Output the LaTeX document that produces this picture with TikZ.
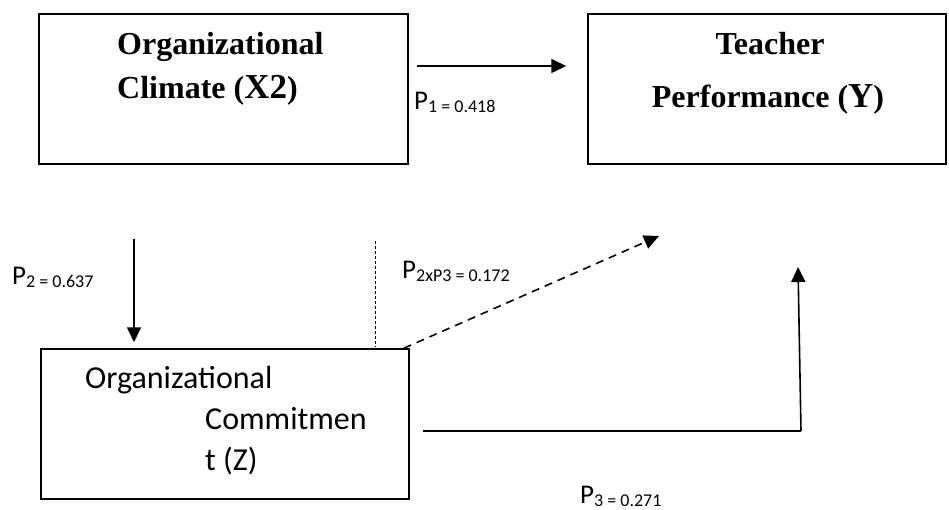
\documentclass[tikz,border=0pt]{standalone}
\usepackage{fontspec}
\setmainfont{Liberation Serif}
\newfontfamily\calfont{Carlito}
\usetikzlibrary{
  arrows.meta,
  positioning,
  calc
}
\tikzset{
  varbox/.style={draw, line width=1.5pt, inner sep=0pt},
  hdtxt/.style={inner sep=0pt, font=\fontsize{32}{36}\selectfont\bfseries},
  cmtxt/.style={inner sep=0pt, anchor=base west, font=\calfont\fontsize{32}{36}\selectfont},
  lbl/.style={inner sep=0pt, anchor=base west},
  arr/.style={-{Triangle[length=15pt, width=14pt]}, line width=1.6pt},
  darr/.style={-{Triangle[length=15pt, width=14pt]}, line width=1.6pt,
    dash pattern=on 8pt off 6pt},
}
\newcommand{\pathlbl}[1]{{\calfont\fontsize{27}{30}\selectfont
  P\raisebox{-3pt}{\fontsize{18}{20}\selectfont #1}}}
\newcommand{\bigv}[1]{{\fontsize{35}{40}\selectfont #1}}

\begin{document}
\begin{tikzpicture}[x=1pt, y=1pt]
  \useasboundingbox (0,0) rectangle (949,509);
  % variable boxes
  \node[varbox, minimum width=369pt, minimum height=150pt] (clim) at (223.5,420) {};
  \node[varbox, minimum width=358pt, minimum height=150pt] (perf) at (767,420) {};
  \node[varbox, minimum width=368pt, minimum height=150pt] (comm) at (225,85) {};
  % box texts
  \node[hdtxt, anchor=base west] (climA) at (117,454) {Organizational};
  \node[hdtxt, anchor=base west] (climB) at (117,410) {Climate (\bigv{X2})};
  \node[hdtxt, anchor=base] (perfA) at (770,454) {Teacher};
  \node[hdtxt, anchor=base] (perfB) at (768,401) {Performance (\bigv{Y})};
  \node[cmtxt] (commA) at (85,121) {Organizational};
  \node[cmtxt] (commB) at (205,80) {Commitmen};
  \node[cmtxt] (commC) at (205,39) {t (Z)};
  % free ends of the paths
  \coordinate (p2top) at (134,270);
  \coordinate (dotTop) at (375,268);
  \coordinate (dotBot) at (375,162);
  \coordinate (indTip) at (659,273);
  \coordinate (p3start) at (423,78);
  \coordinate (p3corner) at (801,78);
  \coordinate (p3tip) at (798,242);
  % paths
  \draw[arr] ([shift={(8,23)}]clim.east) -- ([shift={(-21,23)}]perf.west);
  \draw[arr] (p2top) -- ($(p2top |- comm.north)+(0,6)$);
  \draw[line width=0.8pt, dash pattern=on 3pt off 2pt] (dotTop) -- (dotBot);
  \draw[darr] ([xshift=-6pt]comm.north east) -- (indTip);
  \draw[line width=1.6pt] (p3start) -- (p3corner);
  \draw[arr] (p3corner) -- (p3tip);
  % path coefficients
  \node[lbl] (lp1) at (414,399) {\pathlbl{1 = 0.418}};
  \node[lbl] (lp2) at (12,225) {\pathlbl{2 = 0.637}};
  \node[lbl] (lp23) at (402,230) {\pathlbl{2xP3 = 0.172}};
  \node[lbl] (lp3) at (580,6) {\pathlbl{3 = 0.271}};
\end{tikzpicture}
\end{document}
